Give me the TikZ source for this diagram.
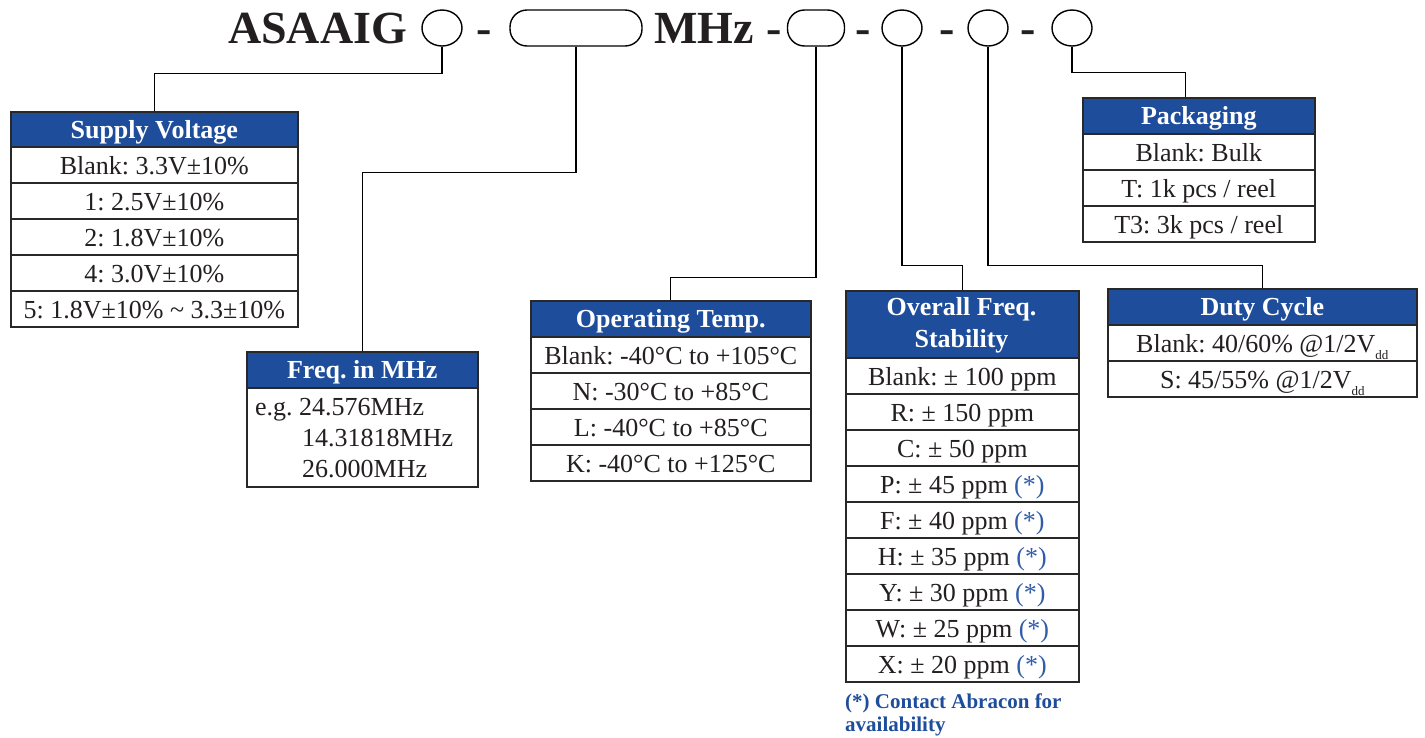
\documentclass[tikz,border=0pt]{standalone}
\usepackage{fontspec}
\setmainfont{Liberation Serif}
\frenchspacing
\usetikzlibrary{shapes.geometric,calc}
\definecolor{hb}{RGB}{30,77,155}
\definecolor{sb}{RGB}{50,92,168}
\definecolor{lc}{RGB}{40,40,40}
\definecolor{tc}{RGB}{35,31,32}
\tikzset{
  cell/.style={draw=lc, line width=1.6pt, fill=white, minimum height=36pt, inner sep=0pt,
    anchor=north west, text=tc, font=\fontsize{26}{29}\selectfont, text height=19pt, text depth=0pt},
  hdr/.style={cell, fill=hb, text=white, font=\fontsize{26}{29}\selectfont\bfseries, text height=18pt},
  conn/.style={draw=black, line width=1.3pt},
  shp/.style={draw=black, line width=1.4pt, inner sep=0pt, minimum height=36pt},
  ttl/.style={anchor=base, text=tc, font=\fontsize{46}{50}\selectfont\bfseries, inner sep=0pt},
  plain/.style={anchor=base west, text=tc, font=\fontsize{26}{29}\selectfont, inner sep=0pt},
}
\newcommand{\myast}{{\color{sb}(*)}}
\newcommand{\myvdd}{V\raisebox{-7pt}{\fontsize{13}{13}\selectfont dd}}
\begin{document}
\begin{tikzpicture}[x=1pt,y=-1pt]
\useasboundingbox (0,0) rectangle (1425,737);
% title
\node[ttl, anchor=base west] (tA) at (228,43) {ASAAIG};
\node[shp, ellipse, minimum width=40pt] (c1) at (442,28) {};
\node[ttl] (d1) at (484,43) {-};
\node[shp, rounded corners=17pt, minimum width=132pt] (r2) at (576,28) {};
\node[ttl, anchor=base west] (tM) at (654,43) {MHz};
\node[ttl] (d2) at (774,43) {-};
\node[shp, rounded corners=17pt, minimum width=57pt] (r3) at (816,28) {};
\node[ttl] (d3) at (863,43) {-};
\node[shp, ellipse, minimum width=40pt] (c4) at (902,28) {};
\node[ttl] (d4) at (947,43) {-};
\node[shp, ellipse, minimum width=40pt] (c5) at (988,28) {};
\node[ttl] (d5) at (1028,43) {-};
\node[shp, ellipse, minimum width=40pt] (c6) at (1072,28) {};

% Supply voltage
\begin{scope}[every node/.append style={minimum width=287pt}]
\node[hdr, minimum height=35pt] (svh) at (10,111) {Supply Voltage};
\node[cell] (sv1) at (10,146) {Blank: 3.3V±10\%};
\node[cell] (sv2) at (10,182) {1: 2.5V±10\%};
\node[cell] (sv3) at (10,218) {2: 1.8V±10\%};
\node[cell] (sv4) at (10,254) {4: 3.0V±10\%};
\node[cell] (sv5) at (10,290) {5: 1.8V±10\% \textasciitilde\ 3.3±10\%};
\end{scope}

% Freq in MHz
\node[hdr, minimum width=231pt] (fqh) at (246,351) {Freq. in MHz};
\node[cell, minimum width=231pt, minimum height=99pt] (fqb) at (246,387) {};
\node[plain] (fq1) at (255,415) {e.g. 24.576MHz};
\node[plain] (fq2) at (302,446) {14.31818MHz};
\node[plain] (fq3) at (302,477) {26.000MHz};

% Operating temp
\begin{scope}[every node/.append style={minimum width=280pt}]
\node[hdr] (oth) at (530,300) {Operating Temp.};
\node[cell] (ot1) at (530,336) {Blank: -40°C to +105°C};
\node[cell] (ot2) at (530,372) {N: -30°C to +85°C};
\node[cell] (ot3) at (530,408) {L: -40°C to +85°C};
\node[cell] (ot4) at (530,444) {K: -40°C to +125°C};
\end{scope}

% Stability
\begin{scope}[every node/.append style={minimum width=233pt}]
\node[hdr, minimum height=67pt] (sth) at (845,290) {};
\node[cell] (st1) at (845,357) {Blank: ± 100 ppm};
\node[cell] (st2) at (845,393) {R: ± 150 ppm};
\node[cell] (st3) at (845,429) {C: ± 50 ppm};
\node[cell] (st4) at (845,465) {P: ± 45 ppm \myast};
\node[cell] (st5) at (845,501) {F: ± 40 ppm \myast};
\node[cell] (st6) at (845,537) {H: ± 35 ppm \myast};
\node[cell] (st7) at (845,573) {Y: ± 30 ppm \myast};
\node[cell] (st8) at (845,609) {W: ± 25 ppm \myast};
\node[cell] (st9) at (845,645) {X: ± 20 ppm \myast};
\end{scope}
\node[ttl, text=white, font=\fontsize{26}{29}\selectfont\bfseries] (stha) at (961.5,315) {Overall Freq.};
\node[ttl, text=white, font=\fontsize{26}{29}\selectfont\bfseries] (sthb) at (961.5,347) {Stability};
\node[anchor=base west, inner sep=0pt, text=hb, font=\fontsize{21}{24}\selectfont\bfseries] (fn1) at (845,708) {(*) Contact Abracon for};
\node[anchor=base west, inner sep=0pt, text=hb, font=\fontsize{21}{24}\selectfont\bfseries] (fn2) at (845,731) {availability};

% Packaging
\begin{scope}[every node/.append style={minimum width=232pt}]
\node[hdr] (pkh) at (1082,97) {Packaging};
\node[cell] (pk1) at (1082,133) {Blank: Bulk};
\node[cell] (pk2) at (1082,169) {T: 1k pcs / reel};
\node[cell] (pk3) at (1082,205) {T3: 3k pcs / reel};
\end{scope}

% Duty cycle
\begin{scope}[every node/.append style={minimum width=309pt}]
\node[hdr] (dch) at (1107,288) {Duty Cycle};
\node[cell] (dc1) at (1107,324) {Blank: 40/60\% @1/2\myvdd};
\node[cell] (dc2) at (1107,360) {S: 45/55\% @1/2\myvdd};
\end{scope}

% connectors
\draw[conn] (c1.south) -- ++(0,27) -| (svh.north);
\draw[conn] (r2.south) -- ++(0,126) -| (fqh.north);
\draw[conn] (r3.south) -- ++(0,231) -| (oth.north);
\draw[conn] (c4.south) -- ++(0,219) -| (sth.north);
\draw[conn] (c5.south) -- ++(0,219) -| (dch.north);
\draw[conn] (c6.south) -- ++(0,26) -| ($(pkh.north)+(-13,0)$);
\end{tikzpicture}
\end{document}
